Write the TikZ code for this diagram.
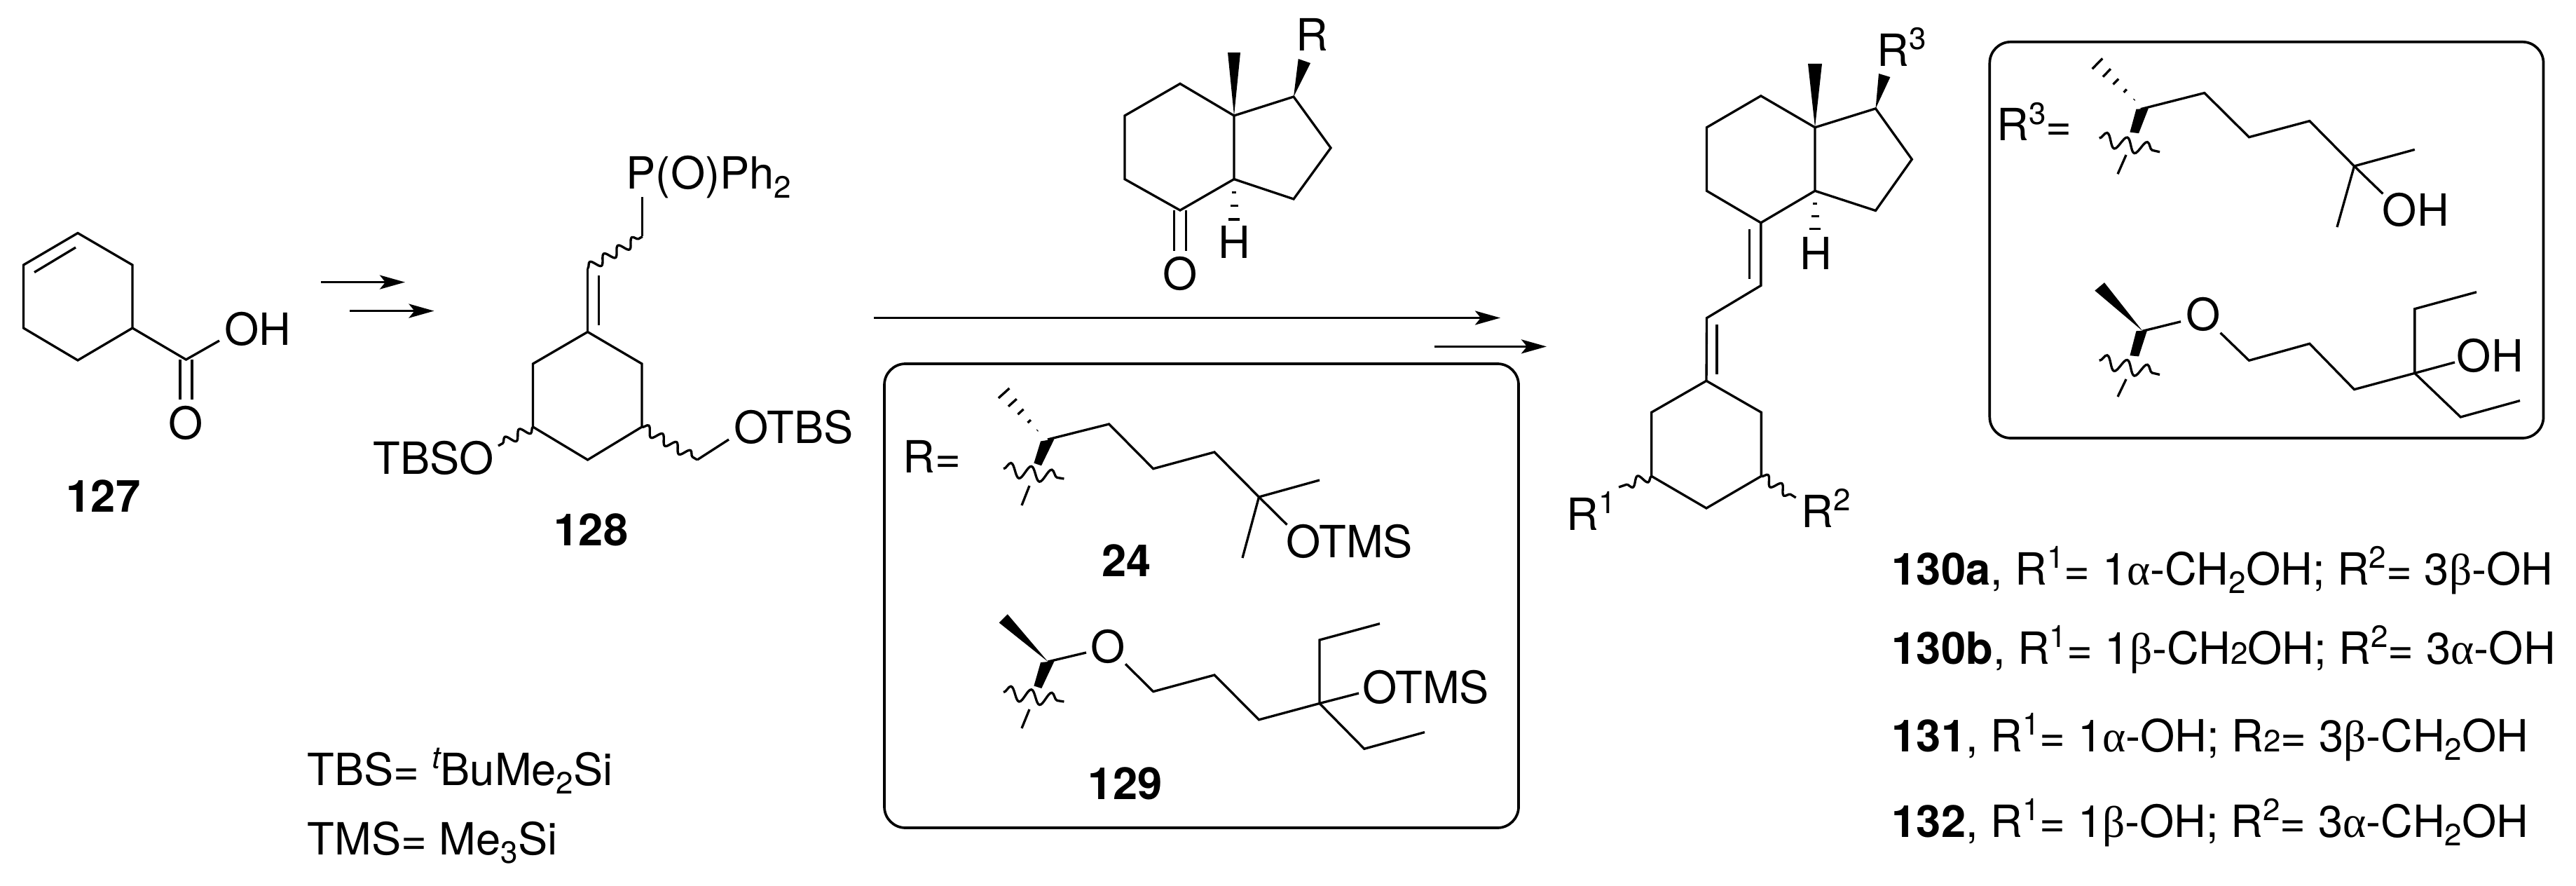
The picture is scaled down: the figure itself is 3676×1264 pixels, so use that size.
\documentclass[tikz,border=0pt]{standalone}
\usepackage{fontspec}
\setmainfont{TeX Gyre Heros}
\newfontfamily\greekfont{Liberation Serif}
\usetikzlibrary{arrows.meta,calc,decorations.pathmorphing}
\newcommand{\chemfont}{\fontsize{18}{21}\selectfont}
\newcommand{\atomsup}[1]{\raisebox{.72ex}{\fontsize{12.5}{13}\selectfont #1}}
\newcommand{\atomsub}[1]{\raisebox{-.38ex}{\fontsize{12.5}{13}\selectfont #1}}
\newcommand{\atomsmall}[1]{{\fontsize{12.5}{13}\selectfont #1}}
\newcommand{\ga}{{\greekfont α}}
\newcommand{\gb}{{\greekfont β}}
\newcommand{\hashbond}[3]{\foreach \t in {#3} {\draw[bond] ($(#1)!\t!(#2)!{\t*0.11cm}!90:(#2)$) -- ($(#1)!\t!(#2)!{\t*0.11cm}!-90:(#2)$);}}
\tikzset{bond/.style = {line width=0.95pt,line join=miter}}
\tikzset{wavy/.style = {line width=0.95pt,decorate,decoration={snake,amplitude=1.9pt,segment length=6.6pt,post length=0pt}}}
\tikzset{wavycut/.style = {line width=0.95pt,decorate,decoration={snake,amplitude=2.8pt,segment length=8.4pt,post length=0pt}}}
\tikzset{wedge/.style = {fill=black,draw=none}}
\tikzset{rxn/.style = {line width=1pt,-{Stealth[length=0.36cm,width=0.2cm,inset=0.08cm]}}}
\tikzset{panel/.style = {line width=1.05pt,rounded corners=0.3cm}}
\tikzset{atom/.style = {inner sep=0pt,anchor=base west,font=\chemfont}}
\tikzset{atomc/.style = {inner sep=0pt,anchor=base,font=\chemfont}}
\tikzset{cmpd/.style = {inner sep=0pt,anchor=base,font=\chemfont\bfseries}}
\begin{document}
\begin{tikzpicture}[x=0.01cm,y=-0.01cm]
\useasboundingbox (0,0) rectangle (3676,1264);
% 127
\coordinate (a1) at (111,332.5);
\coordinate (a2) at (189,378);
\coordinate (a3) at (189,468);
\coordinate (a4) at (111,514);
\coordinate (a5) at (33.5,468);
\coordinate (a6) at (33.5,378);
\coordinate (a7) at (108,353);
\coordinate (a8) at (49,388.5);
\coordinate (a9) at (265.5,513);
\coordinate (a10) at (313,486);
\node[atom] (acidoh) at (320,492) {OH};
\node[atomc] (acido) at (265.5,626) {O};
\node[cmpd] (c127) at (147.5,730) {127};
\draw[bond] (a1) -- (a2) -- (a3) -- (a4) -- (a5) -- (a6) -- cycle;
\draw[bond] (a7) -- (a8);
\draw[bond] (a3) -- (a9) -- (a10);
\draw[bond] ($(a9)+(-8.5,0)$) -- ($(a9)+(-8.5,57)$);
\draw[bond] ($(a9)+(8.5,0)$) -- ($(a9)+(8.5,57)$);

% arrows
\coordinate (r1a) at (458,402.6);
\coordinate (r1b) at (578,402.6);
\coordinate (r2a) at (499,443.6);
\coordinate (r2b) at (619.5,443.6);
\coordinate (r3a) at (1247,453.5);
\coordinate (r3b) at (2141,453.5);
\coordinate (r4a) at (2047,494.4);
\coordinate (r4b) at (2207,494.4);
\draw[rxn] (r1a) -- (r1b);
\draw[rxn] (r2a) -- (r2b);
\draw[rxn] (r3a) -- (r3b);
\draw[rxn] (r4a) -- (r4b);

% 128
\coordinate (b1) at (838.6,473.5);
\coordinate (b2) at (916,519);
\coordinate (b3) at (916,609);
\coordinate (b4) at (838.6,656);
\coordinate (b5) at (760.5,609);
\coordinate (b6) at (760.5,519);
\coordinate (b7) at (838.6,383);
\coordinate (b8) at (916.8,337.5);
\coordinate (b9) at (916.8,281.5);
\coordinate (b10) at (854.6,393.5);
\coordinate (b11) at (854.6,464);
\coordinate (b12) at (711,636);
\coordinate (b13) at (995,656);
\coordinate (b14) at (1040,627);
\node[atom] (pox) at (893,270) {P(O)Ph\atomsub{2}};
\node[atom,anchor=base east] (tbso) at (705.5,676.6) {TBSO};
\node[atom] (otbs) at (1047,632) {OTBS};
\node[cmpd] (c128) at (843.5,778) {128};
\draw[bond] (b1) -- (b2) -- (b3) -- (b4) -- (b5) -- (b6) -- cycle;
\draw[bond] (b1) -- (b7);
\draw[bond] (b10) -- (b11);
\draw[wavy] (b7) -- (b8);
\draw[bond] (b8) -- (b9);
\draw[wavy] (b5) -- (b12);
\draw[wavy] (b3) -- (b13);
\draw[bond] (b13) -- (b14);

% TBS and TMS
\node[atom] (tbsdef) at (438,1120) {TBS= \atomsup{\itshape t}BuMe\atomsub{2}Si};
\node[atom] (tmsdef) at (438,1219) {TMS= Me\atomsub{3}Si};

% ketone
\coordinate (k1) at (1761,165);
\coordinate (k2) at (1684,119.4);
\coordinate (k3) at (1605,165);
\coordinate (k4) at (1605,255.6);
\coordinate (k5) at (1684,300);
\coordinate (k6) at (1761,255.6);
\coordinate (k7) at (1846,138);
\coordinate (k8) at (1899,211);
\coordinate (k9) at (1846,284);
\coordinate (k10) at (1761,332);
\node[atom] (ketr) at (1849,72.7) {R};
\node[atomc] (keth) at (1761.5,368.5) {H};
\node[atomc] (keto) at (1684,413) {O};
\draw[bond] (k1) -- (k2) -- (k3) -- (k4) -- (k5) -- (k6) -- cycle;
\draw[bond] (k1) -- (k7) -- (k8) -- (k9) -- (k6);
\draw[bond] ($(k5)+(-8.6,0)$) -- ($(k5)+(-8.6,58)$);
\draw[bond] ($(k5)+(8.6,0)$) -- ($(k5)+(8.6,58)$);
\fill[wedge] (k1) -- (1752,75) -- (1770,75) -- cycle;
\fill[wedge] (k7) -- (1852.7,84) -- (1870,90) -- cycle;
\hashbond{k6}{k10}{.25,.5,.75}

% box with 24 and 129
\draw[panel] (1262,519) rectangle (2167,1181);
\node[atom] (boxr) at (1288,674) {R=};
\coordinate (d1) at (1495,627);
\coordinate (d2) at (1582.6,605);
\coordinate (d3) at (1645.7,668.7);
\coordinate (d4) at (1733,645);
\coordinate (d5) at (1796.5,709);
\coordinate (d6) at (1883,685);
\coordinate (d7) at (1773,796);
\coordinate (d8) at (1836.5,748.6);
\coordinate (d9) at (1483,617);
\coordinate (d10) at (1430,558);
\coordinate (d11) at (1432,668.7);
\coordinate (d12) at (1518.4,683);
\coordinate (d13) at (1469,693);
\coordinate (d14) at (1458,721);
\node[atom] (otms1) at (1835,795.5) {OTMS};
\node[cmpd] (c24) at (1607.5,822) {24};
\draw[bond] (d1) -- (d2) -- (d3) -- (d4) -- (d5) -- (d6);
\draw[bond] (d5) -- (d7);
\draw[bond] (d5) -- (d8);
\fill[wedge] (1485,629.5) -- (1504.5,626.3) -- (1486,664.3) -- (1475.4,660.7) -- cycle;
\hashbond{d9}{d10}{.05,.27,.5,.72,.95}
\draw[wavycut] (d11) -- (d12);
\draw[bond] (d13) -- (d14);

\coordinate (e1) at (1495.4,944);
\coordinate (e2) at (1550,931);
\coordinate (e3) at (1606,947.3);
\coordinate (e4) at (1645.7,986.6);
\coordinate (e5) at (1733,963);
\coordinate (e6) at (1796.5,1026.8);
\coordinate (e7) at (1883,1003.5);
\coordinate (e8) at (1883,913);
\coordinate (e9) at (1969,889.7);
\coordinate (e10) at (1939,989);
\coordinate (e11) at (1946.8,1068.3);
\coordinate (e12) at (2033,1044.6);
\coordinate (e13) at (1432,987.5);
\coordinate (e14) at (1518.4,1001);
\coordinate (e15) at (1469,1012);
\coordinate (e16) at (1458,1039);
\node[atomc] (etho) at (1581.4,945) {O};
\node[atom] (otms2) at (1944,1003.5) {OTMS};
\node[cmpd] (c129) at (1605.7,1140) {129};
\draw[bond] (e1) -- (e2);
\draw[bond] (e3) -- (e4) -- (e5) -- (e6) -- (e7) -- (e8) -- (e9);
\draw[bond] (e7) -- (e10);
\draw[bond] (e7) -- (e11) -- (e12);
\fill[wedge] (e1) -- (1425.7,888.4) -- (1437.8,876.3) -- cycle;
\fill[wedge] (1485,945) -- (1504.5,943.3) -- (1486.3,982) -- (1475.4,978.5) -- cycle;
\draw[wavycut] (e13) -- (e14);
\draw[bond] (e15) -- (e16);

% product
\coordinate (f1) at (2590,181.8);
\coordinate (f2) at (2512.8,136.8);
\coordinate (f3) at (2435.5,181.8);
\coordinate (f4) at (2435.5,272.3);
\coordinate (f5) at (2512.8,317.8);
\coordinate (f6) at (2590,272.3);
\coordinate (f7) at (2676.5,154.9);
\coordinate (f8) at (2728.3,227.3);
\coordinate (f9) at (2676.5,300.5);
\coordinate (f10) at (2590,345);
\coordinate (f11) at (2512.8,407.4);
\coordinate (f12) at (2435.5,453.7);
\coordinate (f13) at (2496.4,327);
\coordinate (f14) at (2496.4,397.8);
\coordinate (f15) at (2450,463);
\coordinate (f16) at (2450,533.7);
\coordinate (g1) at (2435,543.3);
\coordinate (g2) at (2513.3,588.3);
\coordinate (g3) at (2513.3,679.3);
\coordinate (g4) at (2435,725);
\coordinate (g5) at (2356.7,679.3);
\coordinate (g6) at (2356.7,588.3);
\coordinate (g7) at (2310,695);
\coordinate (g8) at (2562.7,710);
\node[atom] (prodr) at (2678,94.7) {R\atomsup{3}};
\node[atomc] (prodh) at (2591,384.3) {H};
\node[atom] (prodra) at (2235,756.7) {R\atomsup{1}};
\node[atom] (prodrb) at (2570,752.7) {R\atomsup{2}};
\draw[bond] (f1) -- (f2) -- (f3) -- (f4) -- (f5) -- (f6) -- cycle;
\draw[bond] (f1) -- (f7) -- (f8) -- (f9) -- (f6);
\draw[bond] (f5) -- (f11) -- (f12) -- (g1);
\draw[bond] (f13) -- (f14);
\draw[bond] (f15) -- (f16);
\draw[bond] (g1) -- (g2) -- (g3) -- (g4) -- (g5) -- (g6) -- cycle;
\fill[wedge] (f1) -- (2580,91) -- (2600,91) -- cycle;
\fill[wedge] (f7) -- (2681,105) -- (2697.4,110) -- cycle;
\hashbond{f6}{f10}{.25,.5,.75}
\draw[wavy] (g5) -- (g7);
\draw[wavy] (g3) -- (g8);

% box with R3
\draw[panel] (2839.3,59.8) rectangle (3629.5,625);
\node[atom] (boxrb) at (2849,201) {R\atomsup{3}=};
\coordinate (h1) at (3054.8,155.7);
\coordinate (h2) at (3145.8,132.6);
\coordinate (h3) at (3209.4,195.7);
\coordinate (h4) at (3295.8,172.6);
\coordinate (h5) at (3359.5,237);
\coordinate (h6) at (3445.8,213.4);
\coordinate (h7) at (3335,324);
\coordinate (h8) at (3400.4,276.5);
\coordinate (h9) at (3048.5,145);
\coordinate (h10) at (2990,88);
\coordinate (h11) at (2995.7,197);
\coordinate (h12) at (3082,216.8);
\coordinate (h13) at (3034,221);
\coordinate (h14) at (3022,248.3);
\node[atom] (hoh) at (3399,323) {OH};
\draw[bond] (h1) -- (h2) -- (h3) -- (h4) -- (h5) -- (h6);
\draw[bond] (h5) -- (h7);
\draw[bond] (h5) -- (h8);
\fill[wedge] (3048.4,155.7) -- (3065.7,154.9) -- (3052,190.2) -- (3039.4,188.6) -- cycle;
\hashbond{h9}{h10}{.05,.27,.5,.72,.95}
\draw[wavycut] (h11) -- (h12);
\draw[bond] (h13) -- (h14);

\coordinate (j1) at (3057.5,472.3);
\coordinate (j2) at (3112,458.8);
\coordinate (j3) at (3168.5,474.8);
\coordinate (j4) at (3209.4,514.3);
\coordinate (j5) at (3295.8,490.3);
\coordinate (j6) at (3359.5,555.6);
\coordinate (j7) at (3445.8,532.4);
\coordinate (j8) at (3445.8,440.7);
\coordinate (j9) at (3534,416.7);
\coordinate (j10) at (3503,516.9);
\coordinate (j11) at (3511.3,595);
\coordinate (j12) at (3596,571.6);
\coordinate (j13) at (2995.7,514.3);
\coordinate (j14) at (3082,534.5);
\coordinate (j15) at (3034,541);
\coordinate (j16) at (3022,566);
\node[atomc] (jeto) at (3144,471.5) {O};
\node[atom] (joh) at (3505,530.3) {OH};
\draw[bond] (j1) -- (j2);
\draw[bond] (j3) -- (j4) -- (j5) -- (j6) -- (j7) -- (j8) -- (j9);
\draw[bond] (j7) -- (j10);
\draw[bond] (j7) -- (j11) -- (j12);
\fill[wedge] (j1) -- (2989.3,414.6) -- (3003,403.2) -- cycle;
\fill[wedge] (3048.4,472.3) -- (3064,471.4) -- (3052,508.5) -- (3039.4,507.2) -- cycle;
\draw[wavycut] (j13) -- (j14);
\draw[bond] (j15) -- (j16);

% compounds list
\node[atom] (l1) at (2699,834) {\textbf{130a}, R\atomsup{1}= 1\ga-CH\atomsub{2}OH; R\atomsup{2}= 3\gb-OH};
\node[atom] (l2) at (2699,947) {\textbf{130b}, R\atomsup{1}= 1\gb-CH\atomsmall{2}OH; R\atomsup{2}= 3\ga-OH};
\node[atom] (l3) at (2699,1072) {\textbf{131}, R\atomsup{1}= 1\ga-OH; R\atomsmall{2}= 3\gb-CH\atomsub{2}OH};
\node[atom] (l4) at (2699,1194) {\textbf{132}, R\atomsup{1}= 1\gb-OH; R\atomsup{2}= 3\ga-CH\atomsub{2}OH};
\end{tikzpicture}
\end{document}
